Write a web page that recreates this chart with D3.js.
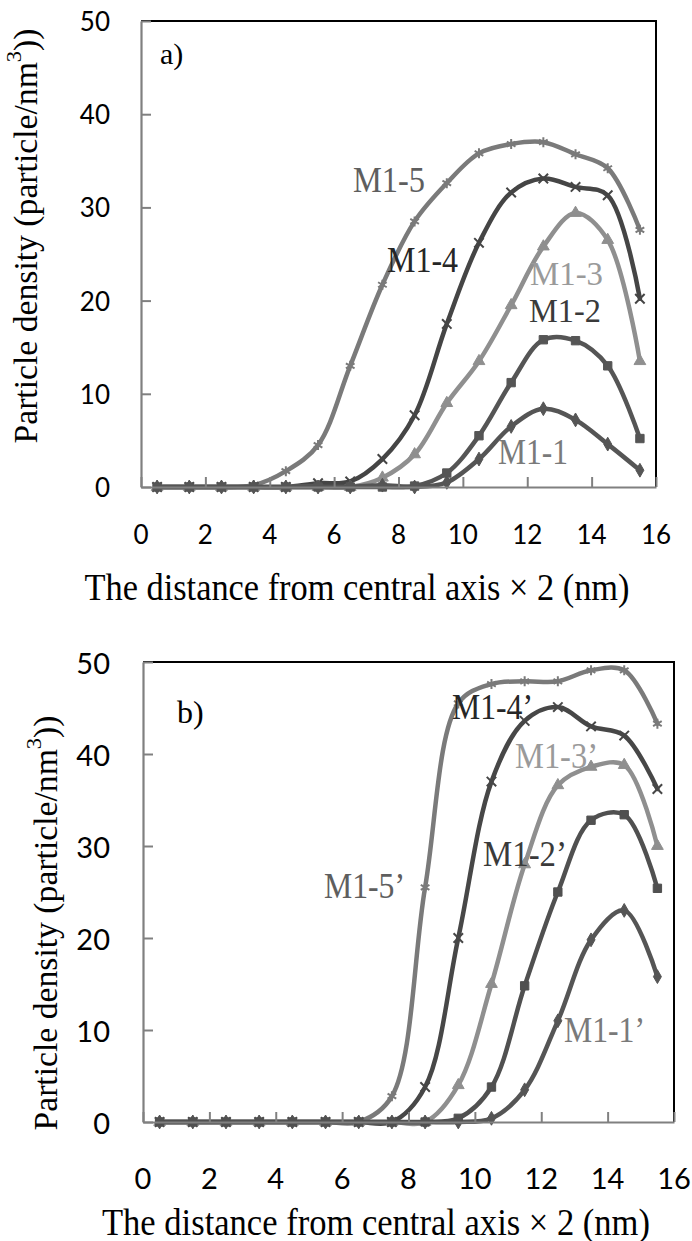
<!DOCTYPE html>
<html><head><meta charset="utf-8">
<script src="https://cdn.jsdelivr.net/npm/d3@7"></script>
<style>body{margin:0;background:#fff}</style>
</head><body><svg id="c" width="692" height="1241"></svg>
<script>
// ---------- data ----------
const xValues = [0.5,1.5,2.5,3.5,4.5,5.5,6.5,7.5,8.5,9.5,10.5,11.5,12.5,13.5,14.5,15.5];
const xTicks = [0,2,4,6,8,10,12,14,16];
const yTicks = [0,10,20,30,40,50];

// panel a
const a_M1_1 = [0,0,0,0,0,0,0,0.2,0,0.5,3,6.5,8.4,7.2,4.6,1.8];
const a_M1_2 = [0,0,0,0,0,0,0,0,0.1,1.5,5.5,11.2,15.8,15.7,13,5.2];
const a_M1_3 = [0,0,0,0,0,0,0,1,3.5,9,13.5,19.5,25.8,29.4,26.5,13.5];
const a_M1_4 = [0,0,0,0,0,0.4,0.6,3,7.7,17.5,26.2,31.6,33.1,32.2,31.3,20.2];
const a_M1_5 = [0,0,0,0.2,1.7,4.5,13,21.7,28.5,32.6,35.8,36.8,37.0,35.7,34.2,27.6];
// panel b
const b_M1_1 = [0,0,0,0,0,0,0,0,0,0,0.4,3.5,11,19.8,23,15.8];
const b_M1_2 = [0,0,0,0,0,0,0,0,0,0.4,3.8,14.8,25,32.8,33.4,25.4];
const b_M1_3 = [0,0,0,0,0,0,0,0,0,4,15,28,36.6,38.6,38.8,30];
const b_M1_4 = [0,0,0,0,0,0,0,0,3.8,20,37,43.6,45.1,43,42,36.2];
const b_M1_5 = [0,0,0,0,0,0,0,2.8,25.5,45.5,47.6,47.9,47.9,49.1,49.1,43.3];

const namesA = ["M1-5","M1-4","M1-3","M1-1","M1-2"];
const namesB = ["M1-5’","M1-4’","M1-3’","M1-1’","M1-2’"];
const xTitle = "The distance from central axis \u00D7 2 (nm)";

// ---------- drawing ----------
const svg = d3.select("#c");
const serifF = "'Liberation Serif','Times New Roman',serif";
const sansF = "Lato,'Open Sans',sans-serif";

const symbolFor = {
  diamond: d3.symbol(d3.symbolDiamond, 55),
  square: d3.symbol(d3.symbolSquare, 70),
  triangle: d3.symbol(d3.symbolTriangle, 60),
  x: d3.symbol(d3.symbolX, 60),
  star: d3.symbol(d3.symbolAsterisk, 70)
};

function panel(cfg) {
  const g = svg.append("g");
  const x = d3.scaleLinear().domain([0,16]).range([cfg.left, cfg.right]);
  const y = d3.scaleLinear().domain([0,50]).range([cfg.bottom, cfg.top]);

  // black top/right border
  g.append("path")
    .attr("d", `M${x(0)},${y(50)}H${x(16)}V${y(0)}`)
    .attr("fill","none").attr("stroke","#000").attr("stroke-width",2);

  // series
  const line = d3.line().x((d,i)=>x(xValues[i])).y(d=>y(d)).curve(d3.curveCatmullRom.alpha(0.5));
  cfg.series.forEach(s => {
    g.append("path").datum(s.values).attr("d", line)
      .attr("fill","none").attr("stroke", s.color).attr("stroke-width",4.5)
      .attr("stroke-linejoin","round").attr("stroke-linecap","round");
    const stroked = (s.marker === "x" || s.marker === "star");
    g.selectAll(null).data(s.values).enter().append("path")
      .attr("transform",(d,i)=>`translate(${x(xValues[i])},${y(d)})`)
      .attr("d", symbolFor[s.marker])
      .attr("fill", stroked ? "none" : s.color)
      .attr("stroke", s.color).attr("stroke-width", stroked ? 2 : 1);
  });

  // axes (gray, inward ticks)
  const ax = g.append("g").attr("transform",`translate(0,${y(0)})`)
    .call(d3.axisBottom(x).tickValues(xTicks).tickSize(-10).tickSizeOuter(0).tickFormat(""));
  const ay = g.append("g").attr("transform",`translate(${x(0)},0)`)
    .call(d3.axisLeft(y).tickValues(yTicks).tickSize(-10).tickSizeOuter(0).tickFormat(""));
  [ax, ay].forEach(a => {
    a.select(".domain").attr("stroke","#808080").attr("stroke-width",2.2);
    a.selectAll(".tick line").attr("stroke","#808080").attr("stroke-width",2);
  });

  // tick labels
  g.selectAll(null).data(xTicks).enter().append("text")
    .attr("x", d=>x(d)).attr("y", cfg.xLabelY)
    .attr("text-anchor","middle").attr("dominant-baseline","central")
    .attr("font-family", sansF).attr("font-size", cfg.tickFont).attr("fill","#000")
    .text(d=>d);
  g.selectAll(null).data(yTicks).enter().append("text")
    .attr("x", 110).attr("y", d=>y(d))
    .attr("text-anchor","end").attr("dominant-baseline","central")
    .attr("font-family", sansF).attr("font-size", cfg.tickFont).attr("fill","#000")
    .text(d=>d);

  // axis titles
  g.append("text").attr("x", cfg.xTitleX).attr("y", cfg.xTitleY)
    .attr("text-anchor","middle").attr("dominant-baseline","central")
    .attr("font-family", serifF).attr("font-size", 37)
    .attr("textLength", cfg.xTitleLen).attr("lengthAdjust","spacingAndGlyphs")
    .text(xTitle);
  const yt = g.append("text")
    .attr("transform",`translate(${cfg.yTitleX},${cfg.yTitleY}) rotate(-90)`)
    .attr("text-anchor","middle").attr("dominant-baseline","central")
    .attr("font-family", serifF).attr("font-size", 33)
    .attr("textLength", 415).attr("lengthAdjust","spacingAndGlyphs");
  yt.append("tspan").text("Particle density (particle/nm");
  yt.append("tspan").attr("baseline-shift","super").attr("font-size",22).text("3");
  yt.append("tspan").text("))");

  // panel letter
  g.append("text").attr("x", cfg.letter.x).attr("y", cfg.letter.y)
    .attr("font-family", serifF).attr("font-size", cfg.letter.size).text(cfg.letter.t);

  // series labels
  cfg.labels.forEach(l => {
    g.append("text").attr("x", l.x).attr("y", l.y)
      .attr("font-family", serifF).attr("font-size", l.fs || 36).attr("fill", l.color)
      .attr("textLength", l.w).attr("lengthAdjust","spacingAndGlyphs")
      .text(l.t);
  });
}

panel({
  left:141, right:656, top:21, bottom:487, tickFont:26, xLabelY:534,
  xTitleX:357, xTitleY:587, xTitleLen:545, yTitleX:26, yTitleY:236,
  letter:{x:160, y:64, size:30, t:"a)"},
  series:[
    {values:a_M1_5, color:"#7a7a7a", marker:"star"},
    {values:a_M1_4, color:"#454545", marker:"x"},
    {values:a_M1_3, color:"#8f8f8f", marker:"triangle"},
    {values:a_M1_1, color:"#555555", marker:"diamond"},
    {values:a_M1_2, color:"#555555", marker:"square"}
  ],
  labels:[
    {t:namesA[0], x:353, y:192, w:72, color:"#5e5e5e"},
    {t:namesA[1], x:387, y:272, w:71, color:"#262626"},
    {t:namesA[2], x:530, y:285, w:73, fs:33, color:"#9a9a9a"},
    {t:namesA[4], x:529, y:322, w:72, fs:33, color:"#3a3a3a"},
    {t:namesA[3], x:498, y:464, w:70, color:"#7a7a7a"}
  ]
});

panel({
  left:143, right:674, top:662, bottom:1122, tickFont:29, xLabelY:1177,
  xTitleX:376, xTitleY:1222, xTitleLen:548, yTitleX:46, yTitleY:923,
  letter:{x:177, y:723, size:32, t:"b)"},
  series:[
    {values:b_M1_5, color:"#7a7a7a", marker:"star"},
    {values:b_M1_4, color:"#474747", marker:"x"},
    {values:b_M1_3, color:"#8f8f8f", marker:"triangle"},
    {values:b_M1_1, color:"#555555", marker:"diamond"},
    {values:b_M1_2, color:"#505050", marker:"square"}
  ],
  labels:[
    {t:namesB[0], x:324, y:898, w:81, color:"#5e5e5e"},
    {t:namesB[1], x:452, y:719, w:81, color:"#262626"},
    {t:namesB[2], x:515, y:768, w:83, color:"#9a9a9a"},
    {t:namesB[4], x:483, y:866, w:84, color:"#3a3a3a"},
    {t:namesB[3], x:564, y:1042, w:81, color:"#7a7a7a"}
  ]
});
</script></body></html>
